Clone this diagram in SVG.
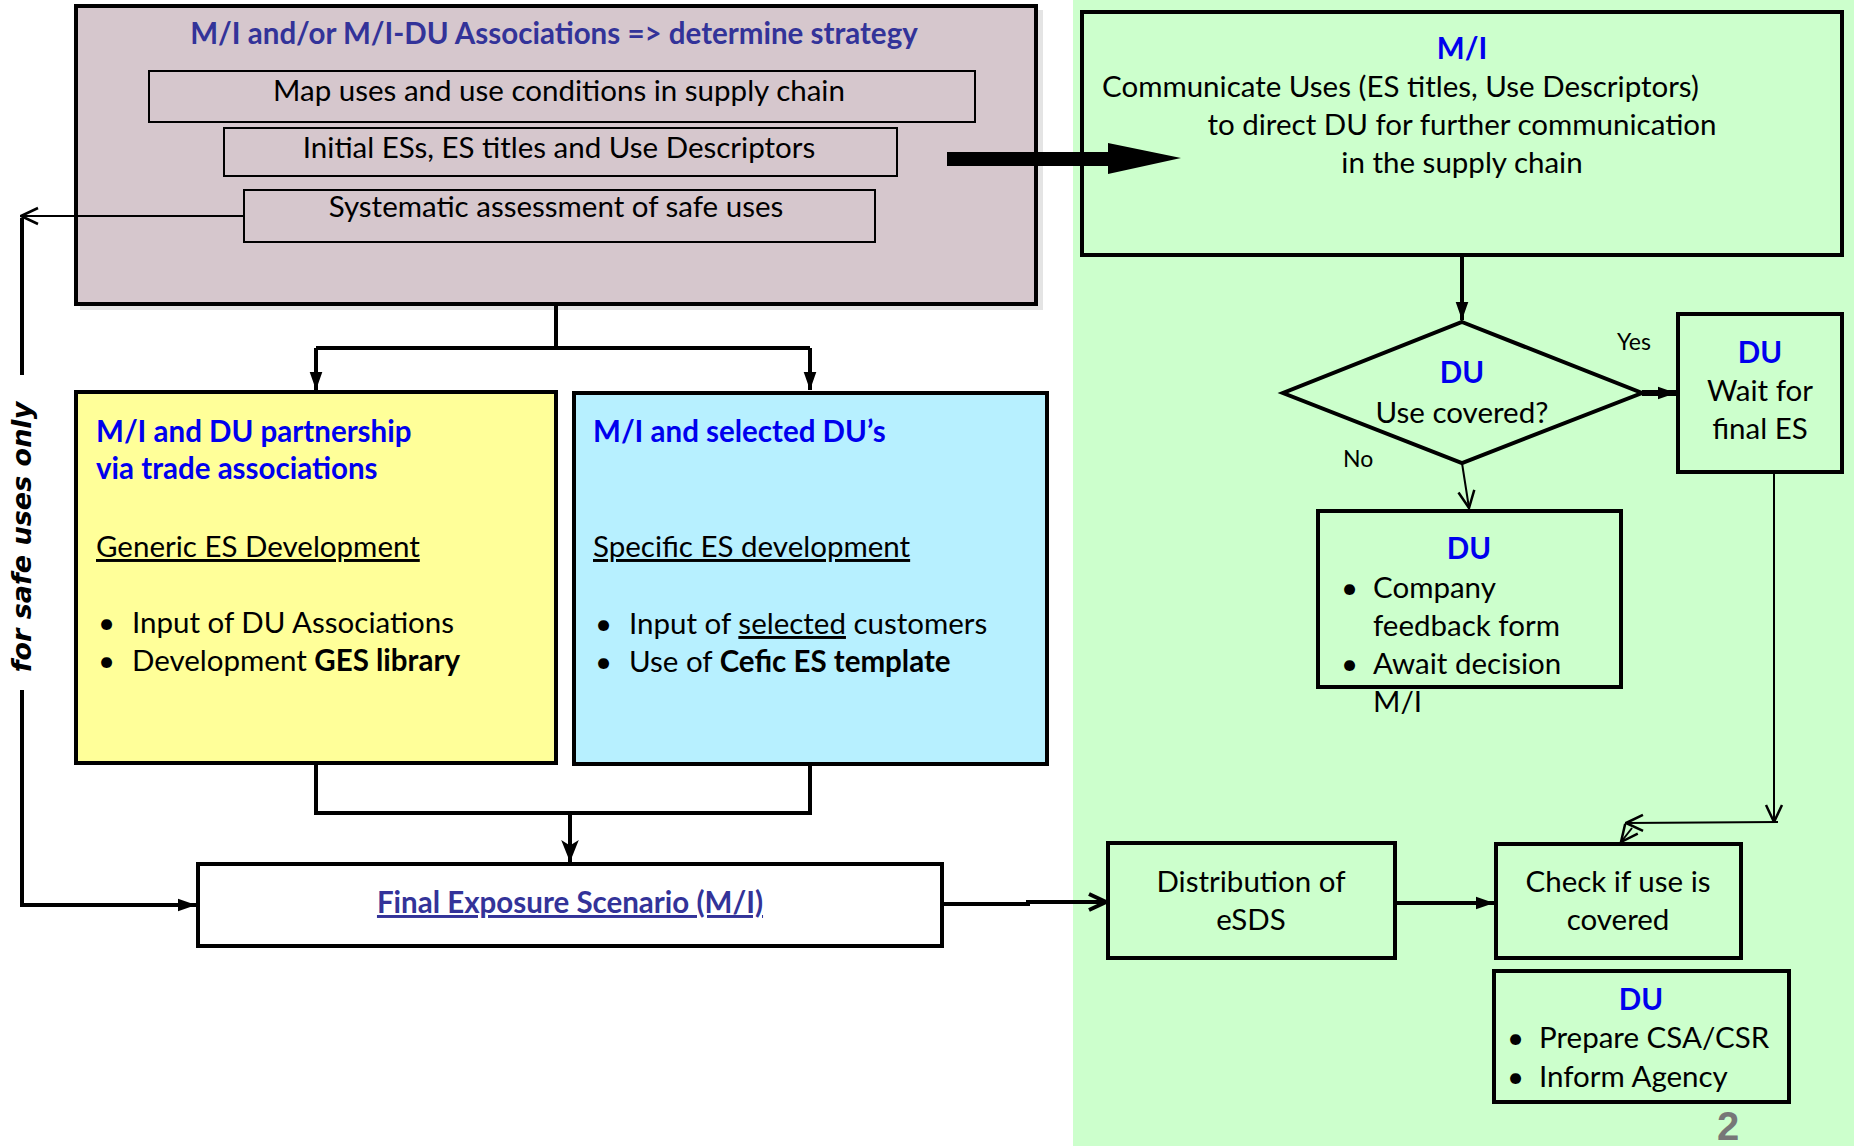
<svg xmlns="http://www.w3.org/2000/svg" width="1854" height="1146" viewBox="0 0 1854 1146">
<style>
text{font-family:Lato,"Open Sans","Liberation Sans",sans-serif;font-size:29.5px;fill:#000}
.c{text-anchor:middle}
.tb{font-weight:bold;fill:#0000ee}
.tp{font-weight:bold;fill:#333399}
.box{stroke:#000;stroke-width:4}
.ibox{fill:none;stroke:#000;stroke-width:2}
.gbox{fill:#ccffcc;stroke:#000;stroke-width:4}
.ln{fill:none;stroke:#000;stroke-width:4}
.th{fill:none;stroke:#000;stroke-width:2}
.u{text-decoration:underline}
.sm{font-size:23px}
</style>
<defs>
<marker id="fa" markerUnits="userSpaceOnUse" viewBox="0 0 20 20" refX="20" refY="10" markerWidth="22" markerHeight="22" orient="auto"><path d="M0,2 L20,10 L0,18 L5,10 Z" fill="#000"/></marker>
<marker id="fb" markerUnits="userSpaceOnUse" viewBox="0 0 20 20" refX="20" refY="10" markerWidth="20" markerHeight="18" orient="auto"><path d="M0,3 L20,10 L0,17 Z" fill="#000"/></marker>
<marker id="ov" markerUnits="userSpaceOnUse" viewBox="0 0 20 20" refX="19" refY="10" markerWidth="20" markerHeight="20" orient="auto"><path d="M2,2 L19,10 L2,18" fill="none" stroke="#000" stroke-width="2.5"/></marker>
<marker id="ovt" markerUnits="userSpaceOnUse" viewBox="0 0 20 20" refX="19" refY="10" markerWidth="20" markerHeight="20" orient="auto"><path d="M2,2 L19,10 L2,18" fill="none" stroke="#000" stroke-width="4"/></marker>
</defs>
<rect x="0" y="0" width="1854" height="1146" fill="#fff"/>
<rect x="1073" y="0" width="781" height="1146" fill="#ccffcc"/>

<g id="strategy">
<rect x="80" y="10" width="963" height="300" fill="#d9d9d9" opacity="0.7"/>
<rect x="76" y="6" width="960" height="298" fill="#d6c7cd" class="box"/>
<text x="554" y="44" class="c tp">M/I and/or M/I-DU Associations =&gt; determine strategy</text>
<rect x="149" y="71" width="826" height="51" class="ibox"/>
<text x="559" y="101" class="c">Map uses and use conditions in supply chain</text>
<rect x="224" y="128" width="673" height="48" class="ibox"/>
<text x="559" y="158" class="c">Initial ESs, ES titles and Use Descriptors</text>
<rect x="244" y="190" width="631" height="52" class="ibox"/>
<text x="556" y="217" class="c">Systematic assessment of safe uses</text>
</g>

<g id="communicate">
<rect x="1082" y="12" width="760" height="243" class="gbox"/>
<text x="1462" y="59" class="c tb">M/I</text>
<text x="1102" y="97">Communicate Uses (ES titles, Use Descriptors)</text>
<text x="1462" y="135" class="c">to direct DU for further communication</text>
<text x="1462" y="173" class="c">in the supply chain</text>
</g>

<g id="generic">
<rect x="76" y="392" width="480" height="371" fill="#ffff99" class="box"/>
<text x="96" y="442" class="tb">M/I and DU partnership</text>
<text x="96" y="479" class="tb">via trade associations</text>
<text x="96" y="557" class="u">Generic ES Development</text>
<text x="98" y="633">•</text><text x="132" y="633">Input of DU Associations</text>
<text x="98" y="671">•</text><text x="132" y="671">Development <tspan font-weight="bold">GES library</tspan></text>
</g>

<g id="specific">
<rect x="574" y="393" width="473" height="371" fill="#b7f0ff" class="box"/>
<text x="593" y="442" class="tb">M/I and selected DU’s</text>
<text x="593" y="557" class="u">Specific ES development</text>
<text x="595" y="634">•</text><text x="629" y="634">Input of <tspan class="u">selected</tspan> customers</text>
<text x="595" y="672">•</text><text x="629" y="672">Use of <tspan font-weight="bold">Cefic ES template</tspan></text>
</g>

<g id="final">
<rect x="198" y="864" width="744" height="82" fill="#fff" class="box"/>
<text x="570" y="913" class="c tp u">Final Exposure Scenario (M/I)</text>
</g>

<g id="decision">
<polygon points="1462,322 1642,393 1462,463 1283,393" fill="#ccffcc" stroke="#000" stroke-width="4"/>
<text x="1462" y="383" class="c tb">DU</text>
<text x="1462" y="423" class="c">Use covered?</text>
</g>

<g id="wait">
<rect x="1678" y="314" width="164" height="158" class="gbox"/>
<text x="1760" y="363" class="c tb">DU</text>
<text x="1760" y="401" class="c">Wait for</text>
<text x="1760" y="439" class="c">final ES</text>
</g>

<g id="feedback">
<rect x="1318" y="511" width="303" height="176" class="gbox"/>
<text x="1469" y="559" class="c tb">DU</text>
<text x="1341" y="598">•</text><text x="1373" y="598">Company</text>
<text x="1373" y="636">feedback form</text>
<text x="1341" y="674">•</text><text x="1373" y="674">Await decision</text>
<text x="1373" y="712">M/I</text>
</g>

<g id="distribution">
<rect x="1108" y="843" width="287" height="115" class="gbox"/>
<text x="1251" y="892" class="c">Distribution of</text>
<text x="1251" y="930" class="c">eSDS</text>
</g>

<g id="check">
<rect x="1496" y="844" width="245" height="114" class="gbox"/>
<text x="1618" y="892" class="c">Check if use is</text>
<text x="1618" y="930" class="c">covered</text>
</g>

<g id="prepare">
<rect x="1494" y="971" width="295" height="131" class="gbox"/>
<text x="1641" y="1010" class="c tb">DU</text>
<text x="1507" y="1048">•</text><text x="1539" y="1048">Prepare CSA/CSR</text>
<text x="1507" y="1087">•</text><text x="1539" y="1087">Inform Agency</text>
</g>

<g id="connectors">
<path class="ln" d="M556,306 V348 M316,348 H810"/>
<path class="ln" d="M316,348 V390" marker-end="url(#fb)"/>
<path class="ln" d="M810,348 V390" marker-end="url(#fb)"/>
<path class="ln" d="M316,763 V813 H810 V764"/>
<path class="ln" d="M570,813 V862" marker-end="url(#fa)"/>
<path class="th" d="M244,216 H21" marker-end="url(#ov)"/>
<path class="ln" d="M22,218 V375 M22,690 V905 H196" marker-end="url(#fb)"/>
<polygon points="947,152 1108,152 1108,143 1181,158 1108,174 1108,166 947,166" fill="#000"/>
<path class="ln" d="M942,904 H1028 V902 H1106" marker-end="url(#ovt)"/>
<path class="ln" d="M1395,903 H1494" marker-end="url(#fb)"/>
<path class="ln" d="M1462,257 V320" marker-end="url(#fb)"/>
<path class="ln" style="stroke-width:6" d="M1642,393 H1676" marker-end="url(#fb)"/>
<path class="th" d="M1462,463 L1469,508" marker-end="url(#ov)"/>
<path class="th" d="M1774,472 V822" marker-end="url(#ov)"/>
<path class="th" d="M1778,822 L1626,823" marker-end="url(#ov)"/>
<path class="th" d="M1632,828 L1621,842" marker-end="url(#ov)"/>
<text x="1617" y="350" class="sm">Yes</text>
<text x="1343" y="467" class="sm">No</text>
</g>

<text transform="translate(31,537) rotate(-90)" class="c" style="font-family:'DejaVu Sans',Verdana,sans-serif;font-weight:bold;font-style:italic;font-size:27px">for safe uses only</text>
<text x="1728" y="1140" class="c" style="font-family:'Liberation Sans',Arial,sans-serif;font-weight:bold;font-size:40px;fill:#777">2</text>
</svg>
